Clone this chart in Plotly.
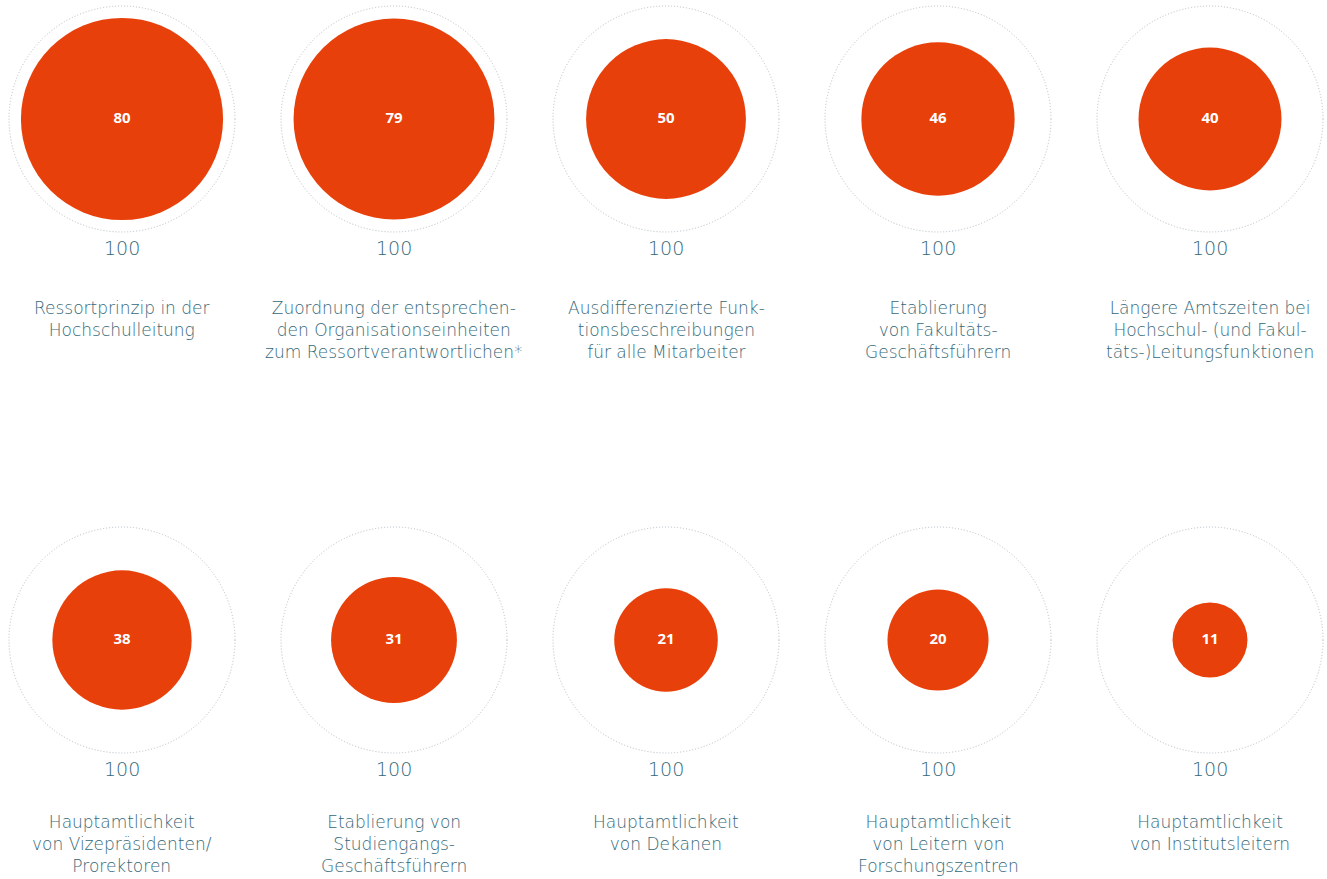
import plotly.graph_objects as go

# survey results: share (%) of universities, per measure
labels = [
    "Ressortprinzip in der<br>Hochschulleitung",
    "Zuordnung der entsprechen-<br>den Organisationseinheiten<br>zum Ressortverantwortlichen*",
    "Ausdifferenzierte Funk-<br>tionsbeschreibungen<br>für alle Mitarbeiter",
    "Etablierung<br>von Fakultäts-<br>Geschäftsführern",
    "Längere Amtszeiten bei<br>Hochschul- (und Fakul-<br>täts-)Leitungsfunktionen",
    "Hauptamtlichkeit<br>von Vizepräsidenten/<br>Prorektoren",
    "Etablierung von<br>Studiengangs-<br>Geschäftsführern",
    "Hauptamtlichkeit<br>von Dekanen",
    "Hauptamtlichkeit<br>von Leitern von<br>Forschungszentren",
    "Hauptamtlichkeit<br>von Institutsleitern",
]
values = [80, 79, 50, 46, 40, 38, 31, 21, 20, 11]
totals = [100] * 10

W, H = 1327, 879
ORANGE = "#e8400a"
TEXT = "#356878"
RING = "#b3bcc3"
FONT = "DejaVu Sans"
R = 113          # radius of the 100 % ring, px
X0, DX = 122, 272
Y0, DY = 119, 521
LABEL_GAP = [64, 57]   # ring bottom -> first label line, per row

cx = [X0 + DX * (i % 5) for i in range(len(values))]
cy = [Y0 + DY * (i // 5) for i in range(len(values))]
rows = [i // 5 for i in range(len(values))]
sizes = [2 * R * (v / t) ** 0.5 for v, t in zip(values, totals)]

fig = go.Figure()
fig.add_trace(
    go.Scatter(
        x=cx,
        y=cy,
        mode="markers+text",
        marker=dict(size=sizes, sizemode="diameter", color=ORANGE, line=dict(width=0), opacity=1),
        text=[str(v) for v in values],
        textposition="middle center",
        textfont=dict(family="Open Sans", size=15, color="white", weight="bold"),
        hoverinfo="skip",
    )
)

shapes = []
annotations = []
for x, y, r, t, lab in zip(cx, cy, rows, totals, labels):
    shapes.append(
        dict(
            type="circle",
            xref="x", yref="y",
            x0=x - R, x1=x + R, y0=y - R, y1=y + R,
            line=dict(color=RING, width=1, dash="1px,2px"),
            layer="below",
        )
    )
    annotations.append(
        dict(
            x=x, y=y + R + 16, xref="x", yref="y",
            text=str(t), showarrow=False, yanchor="middle",
            font=dict(family=FONT, size=19, color=TEXT, weight=200),
        )
    )
    annotations.append(
        dict(
            x=x, y=y + R + LABEL_GAP[r], xref="x", yref="y",
            text=lab, showarrow=False, yanchor="top", align="center",
            font=dict(family=FONT, size=17, color=TEXT, weight=200),
        )
    )

fig.update_layout(
    width=W,
    height=H,
    margin=dict(l=0, r=0, t=0, b=0),
    paper_bgcolor="white",
    plot_bgcolor="white",
    showlegend=False,
    shapes=shapes,
    annotations=annotations,
    xaxis=dict(range=[0, W], visible=False, fixedrange=True),
    yaxis=dict(range=[H, 0], visible=False, fixedrange=True),
)

fig.write_html(
    "out.html",
    config={"displayModeBar": False},
    post_script="document.body.style.margin='0';document.body.style.overflow='hidden';",
)
